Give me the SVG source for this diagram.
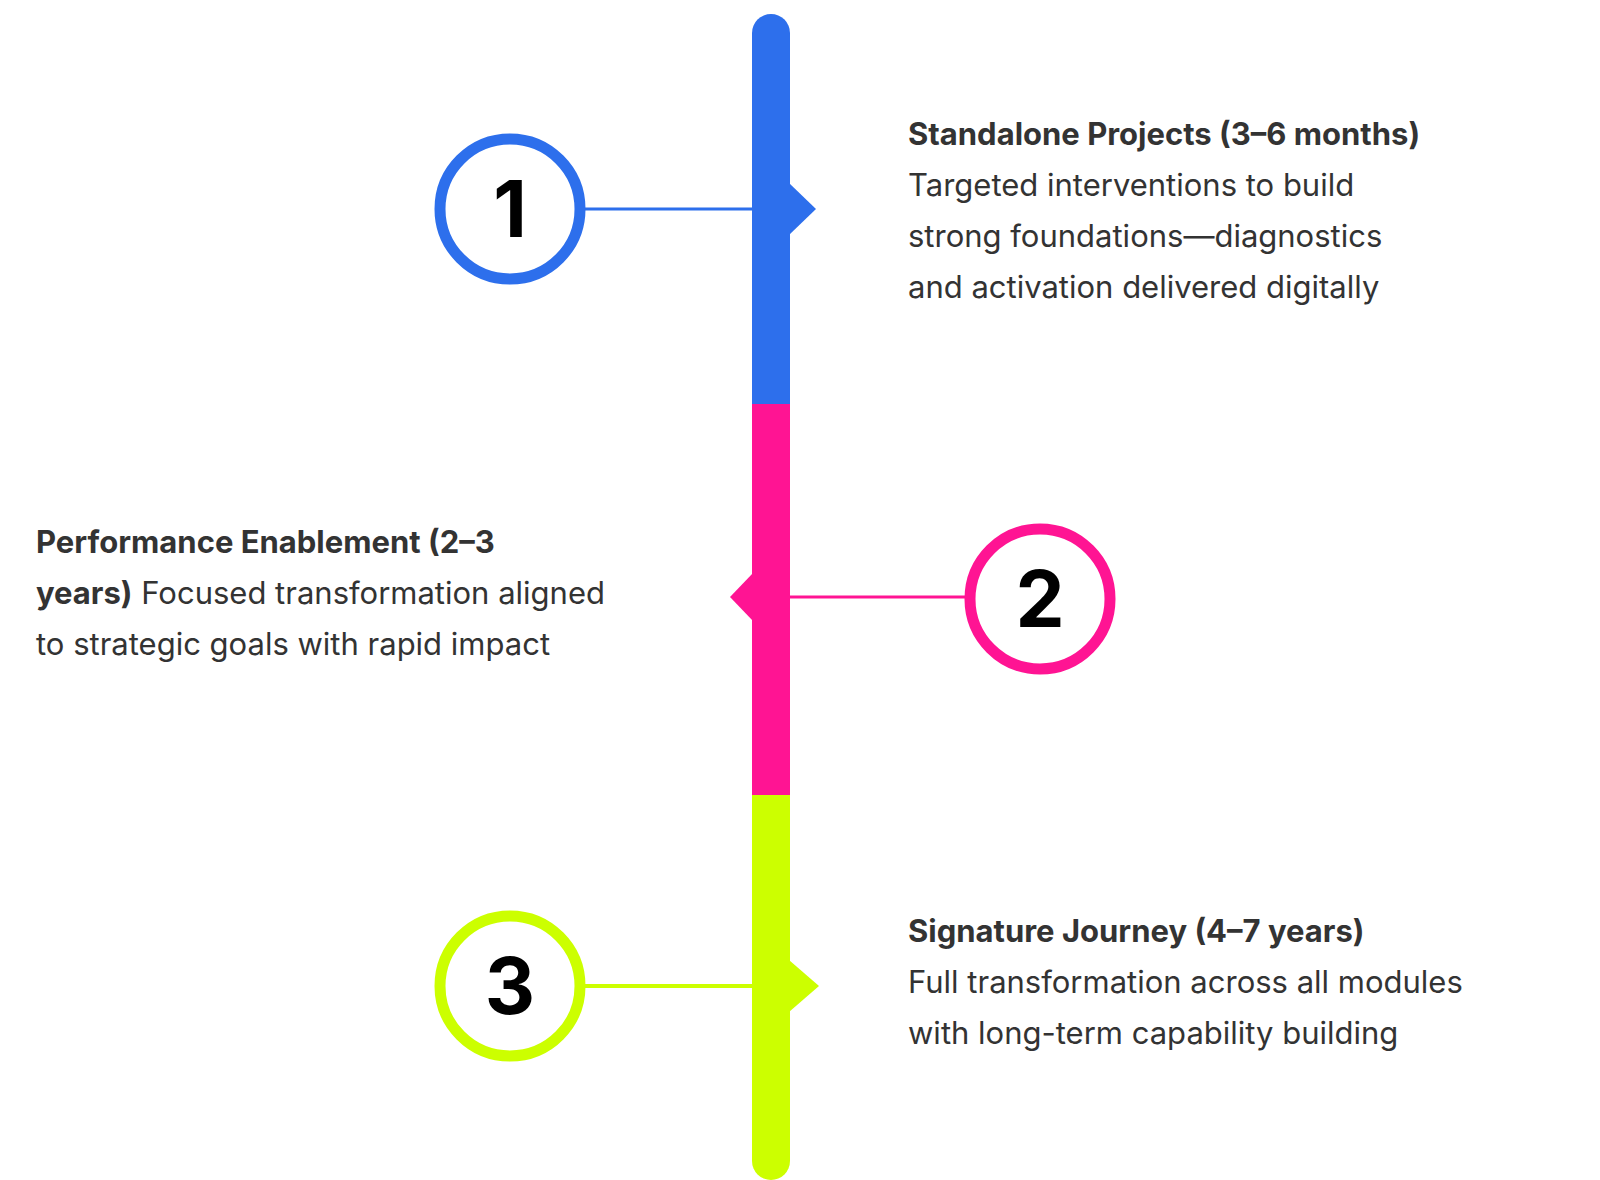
<svg xmlns="http://www.w3.org/2000/svg" width="1600" height="1180" viewBox="0 0 1600 1180">
<style>
.t{font-family:Inter,"Noto Sans",sans-serif;font-size:31px;fill:#333}
.b{font-weight:700}
.n{font-family:Inter,"Liberation Sans",sans-serif;font-size:78px;font-weight:700;fill:#000;text-anchor:middle}
.c{fill:#fff;stroke-width:11}
</style>
<rect width="1600" height="1180" fill="#fff"/>
<g id="bar">
<path d="M752 404V33a19 19 0 0 1 38 0V404Z" fill="#2d6fec"/>
<rect x="752" y="404" width="38" height="391" fill="#ff1493"/>
<path d="M752 795H790V1161a19 19 0 0 1-38 0Z" fill="#ccff00"/>
<polygon points="789,183 816,209 789,235" fill="#2d6fec"/>
<polygon points="753,573 730,597 753,621" fill="#ff1493"/>
<polygon points="789,960 819,986 789,1012" fill="#ccff00"/>
</g>
<g id="connectors">
<line x1="580" y1="209" x2="752" y2="209" stroke="#2d6fec" stroke-width="3"/>
<line x1="790" y1="597" x2="970" y2="597" stroke="#ff1493" stroke-width="3"/>
<line x1="580" y1="986" x2="752" y2="986" stroke="#ccff00" stroke-width="4"/>
</g>
<g id="node1">
<circle class="c" cx="510" cy="209" r="70" stroke="#2d6fec"/>
<text class="n" x="510" y="237">1</text>
<text class="t" x="908"><tspan class="b" x="908" y="145">Standalone Projects (3–6 months)</tspan><tspan x="908" y="196">Targeted interventions to build</tspan><tspan x="908" y="247">strong foundations—diagnostics</tspan><tspan x="908" y="298">and activation delivered digitally</tspan></text>
</g>
<g id="node2">
<circle class="c" cx="1040" cy="599" r="70" stroke="#ff1493"/>
<text class="n" x="1040" y="627">2</text>
<text class="t" x="36"><tspan class="b" x="36" y="553">Performance Enablement (2–3</tspan><tspan x="36" y="604"><tspan class="b">years)</tspan> Focused transformation aligned</tspan><tspan x="36" y="655">to strategic goals with rapid impact</tspan></text>
</g>
<g id="node3">
<circle class="c" cx="510" cy="986" r="70" stroke="#ccff00"/>
<text class="n" x="510" y="1014">3</text>
<text class="t" x="908"><tspan class="b" x="908" y="942">Signature Journey (4–7 years)</tspan><tspan x="908" y="993">Full transformation across all modules</tspan><tspan x="908" y="1044">with long-term capability building</tspan></text>
</g>
</svg>
